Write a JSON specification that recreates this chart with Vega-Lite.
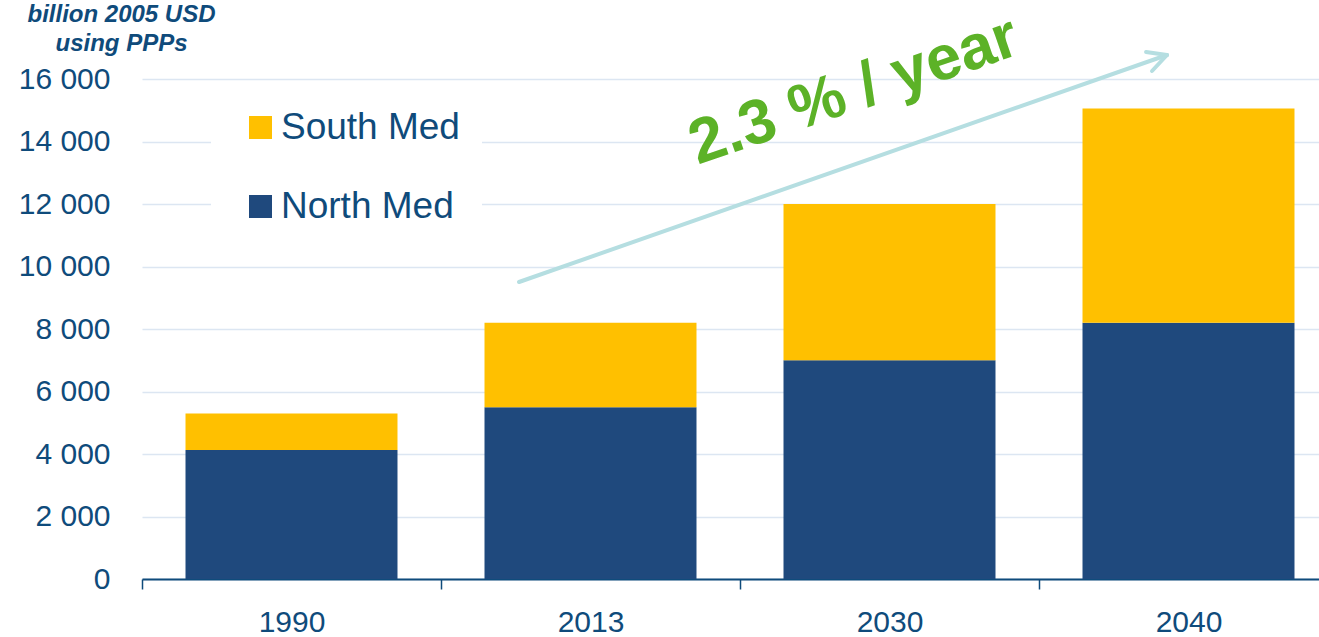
{
  "$schema": "https://vega.github.io/schema/vega-lite/v6.json",
  "autosize": "none",
  "padding": {"left": 142, "top": 79, "right": 0, "bottom": 58},
  "width": 1196,
  "height": 500,
  "background": "white",
  "config": {"view": {"stroke": null}, "font": "Liberation Sans"},
  "layer": [
    {
      "data": {"values": [
        {"year": "1990", "region": "North Med", "value": 4130},
        {"year": "1990", "region": "South Med", "value": 1170},
        {"year": "2013", "region": "North Med", "value": 5500},
        {"year": "2013", "region": "South Med", "value": 2700},
        {"year": "2030", "region": "North Med", "value": 7000},
        {"year": "2030", "region": "South Med", "value": 5000},
        {"year": "2040", "region": "North Med", "value": 8200},
        {"year": "2040", "region": "South Med", "value": 6860}
      ]},
      "mark": {"type": "bar", "width": {"band": 0.709}},
      "encoding": {
        "x": {
          "field": "year", "type": "nominal",
          "scale": {"paddingInner": 0, "paddingOuter": 0},
          "axis": {
            "title": null, "labelAngle": 0, "labelFontSize": 30, "labelColor": "#0F4B7B",
            "tickBand": "extent", "tickSize": 10, "tickColor": "#0F4B7B", "tickWidth": 1.5,
            "domainColor": "#0F4B7B", "domainWidth": 2, "labelPadding": 18, "grid": false
          }
        },
        "y": {
          "field": "value", "type": "quantitative", "stack": "zero",
          "scale": {"domain": [0, 16000], "nice": false},
          "axis": {
            "title": ["billion 2005 USD", "using PPPs"],
            "titleAngle": 0, "titleX": -21, "titleY": -58, "titleAlign": "center",
            "titleBaseline": "alphabetic", "titleFontStyle": "italic", "titleFontWeight": "bold",
            "titleFontSize": 24, "titleLineHeight": 29, "titleColor": "#0F4B7B",
            "values": [0, 2000, 4000, 6000, 8000, 10000, 12000, 14000, 16000],
            "labelExpr": "replace(format(datum.value, ',d'), ',', ' ')",
            "labelFontSize": 30, "labelColor": "#0F4B7B", "labelPadding": 32,
            "ticks": false, "tickSize": 0, "domain": false,
            "grid": true, "gridColor": "#DCE6F2", "gridWidth": 1.5
          }
        },
        "color": {
          "field": "region", "type": "nominal",
          "scale": {"domain": ["South Med", "North Med"], "range": ["#FFC000", "#1F497D"]},
          "legend": {
            "title": null, "orient": "none", "legendX": 69, "legendY": 8,
            "fillColor": "white", "padding": 22, "symbolType": "square", "symbolSize": 529,
            "symbolStrokeWidth": 0, "symbolOffset": 9, "labelFontSize": 37,
            "labelColor": "#0F4B7B", "labelOffset": 2, "rowPadding": 41, "labelLimit": 500,
            "labelExpr": "datum.label + '\u00a0'"
          }
        },
        "order": {"field": "region", "sort": "ascending"}
      }
    },
    {
      "data": {"values": [
        {"x0": 0.761, "y0": 9504, "x1": 2.928, "y1": 16768},
        {"x0": 2.858, "y0": 16864, "x1": 2.928, "y1": 16768},
        {"x0": 2.878, "y0": 16256, "x1": 2.928, "y1": 16768}
      ]},
      "mark": {"type": "rule", "color": "#B5DEE1", "strokeWidth": 4, "strokeCap": "round"},
      "encoding": {
        "x": {"field": "x0", "type": "quantitative", "scale": {"domain": [-0.5, 3.5], "nice": false, "zero": false}, "axis": null},
        "x2": {"field": "x1"},
        "y": {"field": "y0", "type": "quantitative", "scale": {"domain": [0, 16000], "nice": false}, "axis": null},
        "y2": {"field": "y1"}
      }
    },
    {
      "data": {"values": [
        {"x": 1.881, "y": 15616, "label": "2.3 % / year"}
      ]},
      "mark": {"type": "text", "angle": -19, "fontSize": 63, "fontWeight": "bold", "color": "#5CB227", "align": "center", "baseline": "middle", "font": "Liberation Sans"},
      "encoding": {
        "x": {"field": "x", "type": "quantitative", "scale": {"domain": [-0.5, 3.5], "nice": false, "zero": false}, "axis": null},
        "y": {"field": "y", "type": "quantitative", "scale": {"domain": [0, 16000], "nice": false}, "axis": null},
        "text": {"field": "label"}
      }
    }
  ],
  "resolve": {"scale": {"x": "independent", "y": "independent"}}
}
